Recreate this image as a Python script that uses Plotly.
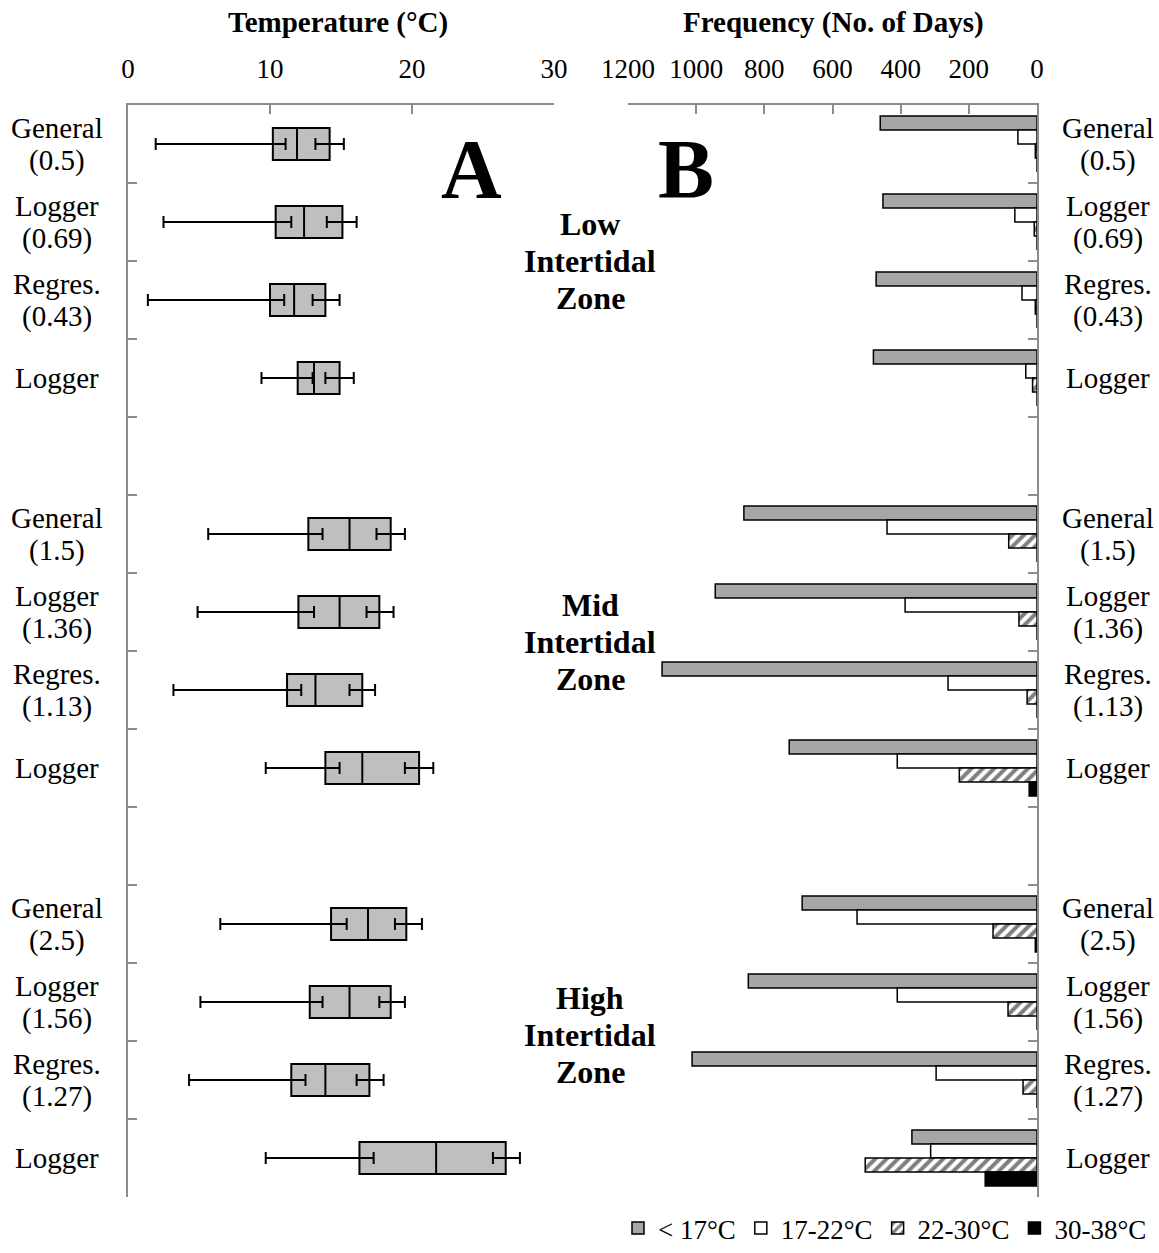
import plotly.graph_objects as go

# ---- data -------------------------------------------------------------
zones = [["Low", "Intertidal", "Zone"], ["Mid", "Intertidal", "Zone"], ["High", "Intertidal", "Zone"]]
row_labels = [["General", "(0.5)"], ["Logger", "(0.69)"], ["Regres.", "(0.43)"], ["Logger"],
              ["General", "(1.5)"], ["Logger", "(1.36)"], ["Regres.", "(1.13)"], ["Logger"],
              ["General", "(2.5)"], ["Logger", "(1.56)"], ["Regres.", "(1.27)"], ["Logger"]]

# Panel A: temperature summaries (°C)
t_min = [1.95, 2.5, 1.4, 9.4, 5.65, 4.9, 3.2, 9.7, 6.5, 5.1, 4.3, 9.7]
t_q1 = [10.2, 10.4, 10.0, 11.95, 12.7, 12.0, 11.2, 13.9, 14.3, 12.8, 11.5, 16.3]
t_lo = [11.1, 11.5, 11.0, 13.0, 13.7, 13.1, 12.2, 14.9, 15.4, 13.7, 12.5, 17.3]
t_med = [11.9, 12.4, 11.7, 13.1, 15.6, 14.9, 13.2, 16.5, 16.9, 15.6, 13.9, 21.7]
t_hi = [13.2, 14.0, 13.0, 13.9, 17.5, 16.8, 15.6, 19.5, 18.8, 17.7, 16.1, 25.7]
t_q3 = [14.2, 15.1, 13.9, 14.9, 18.5, 17.7, 16.5, 20.5, 19.6, 18.5, 17.0, 26.6]
t_max = [15.2, 16.1, 14.9, 15.9, 19.5, 18.7, 17.4, 21.5, 20.7, 19.5, 18.0, 27.6]

# Panel B: number of days in each temperature class
series_names = ["< 17°C", "17-22°C", "22-30°C", "30-38°C"]
days_lt17 = [460, 452, 472, 480, 860, 944, 1100, 727, 689, 847, 1012, 367]
days_17_22 = [56, 65, 44, 33, 440, 387, 261, 410, 528, 410, 296, 312]
days_22_30 = [5, 8, 5, 13, 83, 53, 29, 228, 129, 85, 41, 504]
days_30_38 = [0, 0, 0, 0, 0, 0, 0, 23, 5, 0, 0, 152]

temp_ticks = [0, 10, 20, 30]
day_ticks = [0, 200, 400, 600, 800, 1000, 1200]

# ---- layout helpers ---------------------------------------------------
FONT = "Liberation Serif"
AXIS_GREY = "#8c8c8c"
W, H = 1159, 1253

# each zone has 4 rows followed by an empty slot
slots = [z * 5 + k for z in range(3) for k in range(4)]
n_slots = 14
boundaries = [i + 0.5 for i in range(n_slots - 1)]

Y_TOP, Y_BOT = 105, 1197
ydom = [1 - Y_BOT / H, 1 - Y_TOP / H]
xdomA = [128 / W, 554 / W]
xdomB = [628 / W, 1037 / W]
slot_px = (Y_BOT - Y_TOP) / n_slots


def py(px):
    """pixel row (from top) -> paper fraction"""
    return 1 - px / H


fig = go.Figure()

# ---- panel A: boxes ---------------------------------------------------
box_h = 0.41
fig.add_trace(go.Bar(
    y=slots, x=[q3 - q1 for q1, q3 in zip(t_q1, t_q3)], base=t_q1,
    orientation="h", width=box_h,
    marker=dict(color="#bfbfbf", line=dict(color="black", width=2)),
    xaxis="x", yaxis="y", showlegend=False, hoverinfo="skip",
))

# median lines
mx, my = [], []
for s, m in zip(slots, t_med):
    mx += [m, m, None]
    my += [s - box_h / 2, s + box_h / 2, None]
fig.add_trace(go.Scatter(x=mx, y=my, mode="lines", line=dict(color="black", width=2),
                         xaxis="x", yaxis="y", showlegend=False, hoverinfo="skip"))

# lower whisker (min .. inner cap) and upper whisker (inner cap .. max)
err_style = dict(type="data", symmetric=False, color="black", thickness=2, width=6)
fig.add_trace(go.Scatter(
    x=t_lo, y=slots, mode="markers", marker=dict(size=1, opacity=0),
    error_x=dict(array=[0] * len(t_lo), arrayminus=[l - m for l, m in zip(t_lo, t_min)], **err_style),
    xaxis="x", yaxis="y", showlegend=False, hoverinfo="skip"))
fig.add_trace(go.Scatter(
    x=t_hi, y=slots, mode="markers", marker=dict(size=1, opacity=0),
    error_x=dict(array=[m - h for h, m in zip(t_hi, t_max)], arrayminus=[0] * len(t_hi), **err_style),
    xaxis="x", yaxis="y", showlegend=False, hoverinfo="skip"))

# ---- panel B: grouped day counts ---------------------------------------
bar_styles = [
    dict(color="#a6a6a6", line=dict(color="black", width=1.5)),
    dict(color="white", line=dict(color="black", width=1.5)),
    dict(color="white", line=dict(color="black", width=1.5),
         pattern=dict(shape="/", fgcolor="black", bgcolor="white", size=8, solidity=0.5)),
    dict(color="black", line=dict(color="black", width=1.5)),
]
for name, vals, style in zip(series_names, [days_lt17, days_17_22, days_22_30, days_30_38], bar_styles):
    fig.add_trace(go.Bar(y=slots, x=vals, orientation="h", name=name, marker=style,
                         xaxis="x2", yaxis="y2", hoverinfo="skip"))

# ---- annotations -------------------------------------------------------
ann = []
CAT_SIZE, CAT_LINE = 29, 33
for s, lines in zip(slots, row_labels):
    centre_px = Y_TOP + (s + 0.5) * slot_px
    n = len(lines)
    for i, line in enumerate(lines):
        ypx = centre_px + (i - (n - 1) / 2) * CAT_LINE
        for xc in (57 / W, 1108 / W):
            ann.append(dict(x=xc, y=py(ypx), xref="paper", yref="paper", text=line,
                            showarrow=False, xanchor="center", yanchor="middle",
                            font=dict(family=FONT, size=CAT_SIZE, color="black")))

zone_centre_px = [261, 642, 1035]
for zc, lines in zip(zone_centre_px, zones):
    for i, line in enumerate(lines):
        ann.append(dict(x=590 / W, y=py(zc + (i - 1) * 37), xref="paper", yref="paper",
                        text=f"<b>{line}</b>", showarrow=False, xanchor="center", yanchor="middle",
                        font=dict(family=FONT, size=32, color="black")))

for title, xc in (("Temperature (°C)", 338), ("Frequency (No. of Days)", 833)):
    ann.append(dict(x=xc / W, y=py(22), xref="paper", yref="paper",
                    text=f"<b>{title}</b>", showarrow=False, xanchor="center", yanchor="middle",
                    font=dict(family=FONT, size=29, color="black")))
for letter, xc in (("A", 471), ("B", 686)):
    ann.append(dict(x=xc / W, y=py(170), xref="paper", yref="paper",
                    text=f"<b>{letter}</b>", showarrow=False, xanchor="center", yanchor="middle",
                    font=dict(family=FONT, size=84, color="black")))

axis_common = dict(showgrid=False, zeroline=False, showline=True, linecolor=AXIS_GREY,
                   linewidth=2, ticks="inside", ticklen=9, tickwidth=2, tickcolor=AXIS_GREY)
tickfont = dict(family=FONT, size=27, color="black")

fig.update_layout(
    width=W, height=H, autosize=False,
    margin=dict(l=0, r=0, t=0, b=0, autoexpand=False),
    paper_bgcolor="white", plot_bgcolor="white",
    barmode="group", bargap=0.28, bargroupgap=0,
    xaxis=dict(domain=xdomA, range=[0, 30], side="top", anchor="y",
               tickvals=temp_ticks, tickfont=tickfont, ticklabelstandoff=14, **axis_common),
    yaxis=dict(domain=ydom, range=[n_slots - 0.5, -0.5], anchor="x", side="left",
               tickvals=boundaries, showticklabels=False, **axis_common),
    xaxis2=dict(domain=xdomB, range=[1200, 0], side="top", anchor="y2",
                tickvals=day_ticks, tickfont=tickfont, ticklabelstandoff=14, **axis_common),
    yaxis2=dict(domain=ydom, range=[n_slots - 0.5, -0.5], anchor="x2", side="right",
                tickvals=boundaries, showticklabels=False, **axis_common),
    legend=dict(orientation="h", x=1152 / W, xanchor="right", y=0.0, yanchor="bottom",
                font=dict(family=FONT, size=27, color="black"), bgcolor="rgba(0,0,0,0)",
                itemwidth=30, tracegroupgap=0),
    annotations=ann,
)

fig.write_html("out.html")
